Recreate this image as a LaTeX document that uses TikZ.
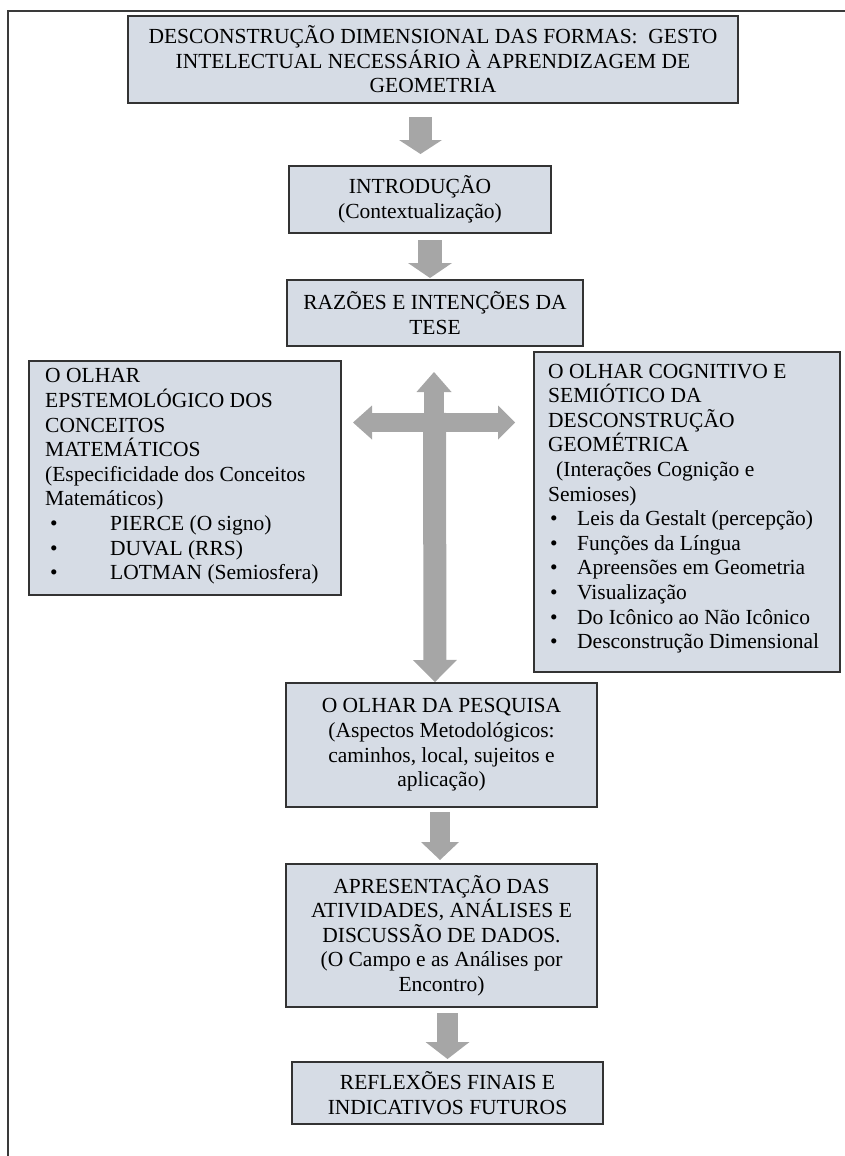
\documentclass[tikz,border=0pt]{standalone}
\usepackage{fontspec}
\setmainfont{Liberation Serif}
\usetikzlibrary{arrows.meta}
\definecolor{boxfill}{HTML}{D6DCE5}
\definecolor{boxline}{HTML}{333333}
\definecolor{arrowgray}{HTML}{A6A6A6}
\definecolor{framec}{HTML}{3A3A3A}
\newcommand{\lbul}{\hspace*{5pt}\makebox[60pt][l]{\textbullet}}
\newcommand{\rbul}{\hspace*{2pt}\makebox[27pt][l]{\textbullet}}
\begin{document}
\begin{tikzpicture}[x=1pt,y=-1pt,
  box/.style={draw=boxline, line width=1.4pt, fill=boxfill, inner sep=0pt, align=center,
    font=\fontsize{21.5}{24.6}\selectfont},
  txt/.style={inner sep=0pt, align=left, anchor=west, font=\fontsize{21.5}{24.6}\selectfont},
  barrow/.style={draw=arrowgray, line cap=butt},
]
\useasboundingbox (0,0) rectangle (845,1156);
% outer frame (left and top edges visible)
\draw[framec, line width=2.2pt] (8,1200) -- (8,11) -- (900,11);

% boxes
\node[box, minimum width=610pt, minimum height=87pt] (top) at (433,59.5)
  {DESCONSTRUÇÃO DIMENSIONAL DAS FORMAS:\ \ GESTO\\INTELECTUAL NECESSÁRIO À APRENDIZAGEM DE\\GEOMETRIA};
\node[box, minimum width=262pt, minimum height=67pt] (intro) at (420,199.5)
  {INTRODUÇÃO\\(Contextualização)};
\node[box, minimum width=296pt, minimum height=66pt] (razoes) at (435,313)
  {RAZÕES E INTENÇÕES DA\\TESE};
\node[box, minimum width=312pt, minimum height=234pt] (epist) at (185,478) {};
\node[txt] (epistT) at (45,476.5)
  {O OLHAR\\EPSTEMOLÓGICO DOS\\CONCEITOS\\MATEMÁTICOS\\(Especificidade dos Conceitos\\Matemáticos)\\
   \lbul PIERCE (O signo)\\\lbul DUVAL (RRS)\\\lbul LOTMAN (Semiosfera)};
\node[box, minimum width=306pt, minimum height=320pt] (cogn) at (687,512) {};
\node[txt] (cognT) at (548,508.5)
  {O OLHAR COGNITIVO E\\SEMIÓTICO DA\\DESCONSTRUÇÃO\\GEOMÉTRICA\\\hspace*{8pt}(Interações Cognição e\\Semioses)\\
   \rbul Leis da Gestalt (percepção)\\\rbul Funções da Língua\\\rbul Apreensões em Geometria\\
   \rbul Visualização\\\rbul Do Icônico ao Não Icônico\\\rbul Desconstrução Dimensional};
\node[box, minimum width=311pt, minimum height=124pt] (pesq) at (441.5,745)
  {O OLHAR DA PESQUISA\\(Aspectos Metodológicos:\\caminhos, local, sujeitos e\\aplicação)};
\node[box, minimum width=311pt, minimum height=143pt] (apres) at (441.5,935.5)
  {APRESENTAÇÃO DAS\\ATIVIDADES, ANÁLISES E\\DISCUSSÃO DE DADOS.\\(O Campo e as Análises por\\Encontro)};
\node[box, minimum width=311pt, minimum height=62pt] (refl) at (447.5,1093)
  {REFLEXÕES FINAIS E\\INDICATIVOS FUTUROS};

% block arrows
\coordinate (a1s) at (420.5,117); \coordinate (a1e) at (420.5,154);
\coordinate (a2s) at (430,240);   \coordinate (a2e) at (430,278);
\coordinate (a3s) at (440,812);   \coordinate (a3e) at (440,860);
\coordinate (a4s) at (447.5,1013); \coordinate (a4e) at (447.5,1059);
\draw[barrow, line width=23pt, -{Triangle[width=43pt,length=14pt,line width=0pt]}] (a1s) -- (a1e);
\draw[barrow, line width=24pt, -{Triangle[width=44pt,length=15pt,line width=0pt]}] (a2s) -- (a2e);
\draw[barrow, line width=20pt, -{Triangle[width=38pt,length=18pt,line width=0pt]}] (a3s) -- (a3e);
\draw[barrow, line width=21pt, -{Triangle[width=44pt,length=17pt,line width=0pt]}] (a4s) -- (a4e);

% cross arrow
\coordinate (cc) at (434,422.5);
\coordinate (cup) at (434,372);
\coordinate (cleft) at (353,422.5);
\coordinate (cright) at (515,422.5);
\coordinate (cdtop) at (434.5,413);
\coordinate (cdown) at (435,682);
\draw[barrow, line width=20pt, -{Triangle[width=35pt,length=20pt,line width=0pt]}] (cc) -- (cup);
\draw[barrow, line width=19pt, -{Triangle[width=34pt,length=19pt,line width=0pt]}] (cc) -- (cleft);
\draw[barrow, line width=19pt, -{Triangle[width=34pt,length=17pt,line width=0pt]}] (cc) -- (cright);
\draw[barrow, line width=23pt, -{Triangle[width=44pt,length=22pt,line width=0pt]}] (cdtop) -- (cdown);
\end{tikzpicture}
\end{document}
